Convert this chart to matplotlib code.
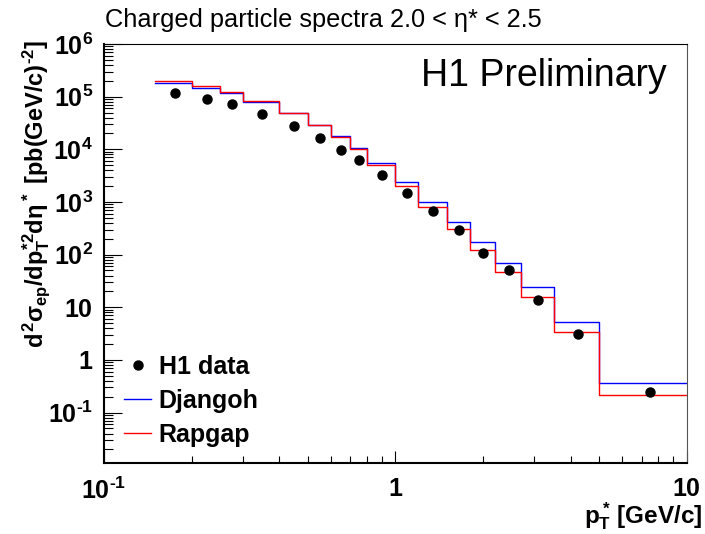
import numpy as np
import matplotlib
matplotlib.use("Agg")
import matplotlib.pyplot as plt
from matplotlib.ticker import FixedLocator, FuncFormatter, LogLocator, NullFormatter

plt.rcParams['font.family'] = ['Liberation Sans', 'DejaVu Sans']
plt.rcParams['mathtext.fontset'] = 'custom'
plt.rcParams['mathtext.rm'] = 'Liberation Sans:bold'
plt.rcParams['mathtext.it'] = 'Liberation Sans:bold'
plt.rcParams['mathtext.bf'] = 'Liberation Sans:bold'
plt.rcParams['mathtext.sf'] = 'Liberation Sans:bold'
plt.rcParams['axes.unicode_minus'] = False

# bin edges in pT* [GeV/c]
edges = [0.15, 0.2, 0.25, 0.3, 0.4, 0.5, 0.6, 0.7, 0.8, 1.0, 1.2, 1.5, 1.8,
         2.2, 2.7, 3.5, 5.0, 10.0]

# MC predictions per bin
djangoh = [1.79e5, 1.44e5, 1.16e5, 7.8e4, 4.9e4, 2.88e4, 1.76e4, 1.07e4, 5.47e3,
           2.42e3, 1.01e3, 421, 175, 70, 24.8, 5.3, 0.366]
rapgap = [2.01e5, 1.59e5, 1.24e5, 8.4e4, 4.85e4, 2.85e4, 1.68e4, 1.01e4, 5.0e3,
          2.0e3, 796, 313, 125, 47.7, 16, 3.4, 0.216]

# H1 data points
data_x = [0.175, 0.225, 0.275, 0.35, 0.45, 0.55, 0.65, 0.75, 0.9, 1.1, 1.35,
          1.65, 2.0, 2.45, 3.1, 4.25, 7.5]
data_y = [1.19e5, 9.0e4, 7.2e4, 4.75e4, 2.81e4, 1.63e4, 9.8e3, 6.2e3, 3.2e3,
          1.5e3, 668, 291, 108, 51, 13.8, 3.16, 0.249]

fig = plt.figure(figsize=(7.05, 5.34), dpi=100)
ax = fig.add_axes([0.1475, 0.1324, 0.974 - 0.1475, 0.9176 - 0.1324])

ax.step(edges, np.append(djangoh, djangoh[-1]), where='post', color='#0000ff', lw=1.0, label='Djangoh')
ax.step(edges, np.append(rapgap, rapgap[-1]), where='post', color='#ff0000', lw=1.0, label='Rapgap')
ax.plot(data_x, data_y, 'o', color='black', ms=6.5, label='H1 data')

ax.set_xscale('log')
ax.set_yscale('log')
ax.set_xlim(0.1, 10)
ax.set_ylim(0.0109, 1.0e6)


def fmt(v, pos):
    e = int(round(np.log10(v)))
    if e == 0:
        return '$1$'
    if e == 1:
        return '$10$'
    if e < 0:
        return r'$10^{\text{-}%d}$' % (-e)
    return '$10^{%d}$' % e


ax.xaxis.set_major_locator(FixedLocator([0.1, 1, 10]))
ax.yaxis.set_major_locator(FixedLocator([1e-1, 1, 10, 1e2, 1e3, 1e4, 1e5, 1e6]))
ax.xaxis.set_major_formatter(FuncFormatter(fmt))
ax.yaxis.set_major_formatter(FuncFormatter(fmt))
ax.xaxis.set_minor_locator(LogLocator(subs=np.arange(2, 10), numticks=20))
ax.yaxis.set_minor_locator(LogLocator(subs=np.arange(2, 10), numticks=20))
ax.xaxis.set_minor_formatter(NullFormatter())
ax.yaxis.set_minor_formatter(NullFormatter())

ax.tick_params(axis='both', which='both', direction='in', top=False, right=False,
               labelsize=18, width=0.8)
ax.tick_params(axis='x', which='major', length=8.4, pad=10)
ax.tick_params(axis='x', which='minor', length=4.8)
ax.tick_params(axis='y', which='major', length=13, pad=8)
ax.tick_params(axis='y', which='minor', length=6.7)

ax.spines['left'].set_linewidth(1.5)
ax.spines['bottom'].set_linewidth(1.5)
ax.spines['top'].set_linewidth(0.8)
ax.spines['right'].set_linewidth(0.8)
ax.spines['right'].set_color('#555555')

fig.text(0.149, 0.962, 'Charged particle spectra 2.0 < \u03b7* < 2.5',
         fontsize=18.3, ha='left', va='center')
ax.text(0.966, 0.924, 'H1 Preliminary', transform=ax.transAxes,
        fontsize=27, ha='right', va='center')

fig.text(0.052, 0.925, r'$d^2\sigma_{ep}/dp_T^{*2}d\eta^*$ $[pb(GeV/c)^{\text{-}2}]$',
         rotation=90, fontsize=17, ha='center', va='top')
fig.text(0.996, 0.004, r'$p_T^*\,[GeV/c]$', fontsize=17.5, ha='right', va='bottom')

h, l = ax.get_legend_handles_labels()
order = [2, 0, 1]
ax.legend([h[i] for i in order], [l[i] for i in order], loc='lower left',
          bbox_to_anchor=(-0.004, -0.015), frameon=False, handlelength=1.08,
          handletextpad=0.3, labelspacing=0.4,
          prop={'weight': 'bold', 'size': 18})

fig.savefig('out.png', dpi=100)
